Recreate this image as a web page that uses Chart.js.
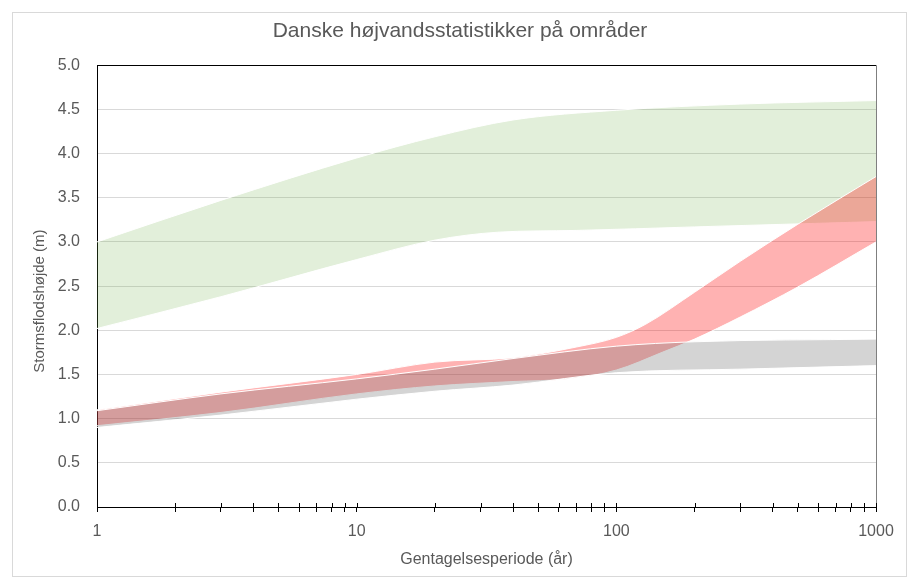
<!DOCTYPE html>
<html>
<head>
<meta charset="utf-8">
<script src="https://cdn.jsdelivr.net/npm/chart.js@4/dist/chart.umd.min.js"></script>
<style>
  html, body { margin: 0; padding: 0; background: #fff; }
  #wrap { position: relative; width: 912px; height: 582px; }
  #frame { position: absolute; left: 12px; top: 12px; width: 895px; height: 565px; border: 1px solid #D9D9D9; box-sizing: border-box; pointer-events: none; }
  canvas { position: absolute; left: 0; top: 0; }
</style>
</head>
<body>
<div id="wrap">
  <canvas id="c" width="912" height="582"></canvas>
  <div id="frame"></div>
</div>
<script>
// ---- Data ----
const chartTitle = "Danske højvandsstatistikker på områder";
const xTitle = "Gentagelsesperiode (år)";
const yTitle = "Stormsflodshøjde (m)";
const xTickLabels = [1, 10, 100, 1000];
const xTickValues = [1, 2, 3, 4, 5, 6, 7, 8, 9,
                     10, 20, 30, 40, 50, 60, 70, 80, 90,
                     100, 200, 300, 400, 500, 600, 700, 800, 900, 1000];

// Green band
const greenUpperX = [1, 3, 10, 20, 40, 100, 300, 1000];
const greenUpperY = [3.00, 3.47, 3.95, 4.19, 4.38, 4.49, 4.56, 4.60];
const greenLowerX = [1, 3, 10, 20, 35, 70, 200, 1000];
const greenLowerY = [2.02, 2.38, 2.80, 3.02, 3.11, 3.13, 3.17, 3.23];

// Red band
const redUpperX = [1, 3, 10, 20, 40, 70, 100, 130, 200, 300, 500, 1000];
const redUpperY = [1.10, 1.30, 1.50, 1.64, 1.69, 1.81, 1.92, 2.07, 2.43, 2.78, 3.20, 3.74];
const redLowerX = [1, 3, 10, 20, 40, 65, 100, 150, 200, 300, 500, 1000];
const redLowerY = [0.92, 1.07, 1.28, 1.37, 1.42, 1.45, 1.55, 1.75, 1.90, 2.15, 2.49, 3.00];

// Gray band
const grayUpperX = [1, 3, 10, 20, 40, 100, 200, 1000];
const grayUpperY = [1.09, 1.28, 1.45, 1.56, 1.68, 1.82, 1.87, 1.90];
const grayLowerX = [1, 3, 10, 20, 40, 100, 300, 1000];
const grayLowerY = [0.90, 1.04, 1.22, 1.31, 1.38, 1.52, 1.56, 1.60];

const pts = (xs, ys) => xs.map((x, i) => ({ x: x, y: ys[i] }));

const GREEN = 'rgba(112,173,71,0.20)';
const RED = 'rgba(255,0,0,0.30)';
const GRAY = 'rgba(100,100,100,0.28)';

const lineBase = {
  borderColor: '#FFFFFF',
  borderWidth: 1,
  pointRadius: 0,
  cubicInterpolationMode: 'monotone',
  tension: 0.4
};

const datasets = [
  Object.assign({ label: 'Grå nedre', data: pts(grayLowerX, grayLowerY), fill: false }, lineBase),
  Object.assign({ label: 'Grå øvre', data: pts(grayUpperX, grayUpperY), fill: '-1', backgroundColor: GRAY }, lineBase),
  Object.assign({ label: 'Rød nedre', data: pts(redLowerX, redLowerY), fill: false }, lineBase),
  Object.assign({ label: 'Rød øvre', data: pts(redUpperX, redUpperY), fill: '-1', backgroundColor: RED }, lineBase),
  Object.assign({ label: 'Grøn nedre', data: pts(greenLowerX, greenLowerY), fill: false }, lineBase),
  Object.assign({ label: 'Grøn øvre', data: pts(greenUpperX, greenUpperY), fill: '-1', backgroundColor: GREEN }, lineBase)
];

const FONT = "'Liberation Sans', Arial, sans-serif";
const TXT = '#595959';

// Upper half of the crossing tick marks on the x axis, and the y axis title
const extras = {
  id: 'extras',
  afterDraw(chart) {
    const xs = chart.scales.x;
    const ca = chart.chartArea;
    const ctx = chart.ctx;
    ctx.save();
    ctx.strokeStyle = '#000';
    ctx.lineWidth = 1;
    xs.ticks.forEach(t => {
      const px = Math.round(xs.getPixelForValue(t.value)) + 0.5;
      ctx.beginPath();
      ctx.moveTo(px, ca.bottom - 4);
      ctx.lineTo(px, ca.bottom);
      ctx.stroke();
    });
    // y axis title
    ctx.fillStyle = TXT;
    ctx.font = "15px " + FONT;
    ctx.textAlign = 'center';
    ctx.textBaseline = 'middle';
    ctx.translate(40, (ca.top + ca.bottom) / 2 + 15);
    ctx.rotate(-Math.PI / 2);
    ctx.fillText(yTitle, 0, 0);
    ctx.restore();
  }
};

new Chart(document.getElementById('c'), {
  type: 'line',
  data: { datasets: datasets },
  plugins: [extras],
  options: {
    responsive: false,
    animation: false,
    layout: { padding: { left: 44, right: 36, top: 0, bottom: 10 } },
    plugins: {
      legend: { display: false },
      tooltip: { enabled: false },
      title: {
        display: true,
        text: chartTitle,
        color: TXT,
        font: { family: FONT, size: 21, weight: 'normal' },
        padding: { top: 19, bottom: 21 }
      }
    },
    scales: {
      x: {
        type: 'logarithmic',
        min: 1,
        max: 1000,
        afterBuildTicks: s => { s.ticks = xTickValues.map(v => ({ value: v })); },
        afterFit: s => { s.height = 65; },
        border: { display: true, color: '#000', width: 1 },
        grid: {
          display: true,
          drawOnChartArea: true,
          drawTicks: true,
          tickLength: 5,
          tickColor: '#000',
          color: ctx => (ctx.tick && ctx.tick.value === 1000) ? '#7F7F7F' : 'rgba(0,0,0,0)',
          lineWidth: 1
        },
        ticks: {
          autoSkip: false,
          maxRotation: 0,
          padding: 10,
          color: TXT,
          font: { family: FONT, size: 16 },
          callback: (v) => xTickLabels.includes(v) ? String(v) : ''
        },
        title: {
          display: true,
          text: xTitle,
          color: TXT,
          font: { family: FONT, size: 16 },
          padding: { top: 4, bottom: 3 }
        }
      },
      y: {
        min: 0,
        max: 5,
        afterFit: s => { s.width = 53; },
        border: { display: true, color: '#000', width: 1 },
        grid: {
          drawTicks: false,
          color: ctx => (ctx.tick && ctx.tick.value === 5) ? '#000' : '#D9D9D9',
          lineWidth: 1
        },
        ticks: {
          stepSize: 0.5,
          padding: 17,
          color: TXT,
          font: { family: FONT, size: 16 },
          callback: v => Number(v).toFixed(1)
        },
        title: { display: false }
      }
    }
  }
});
</script>
</body>
</html>
